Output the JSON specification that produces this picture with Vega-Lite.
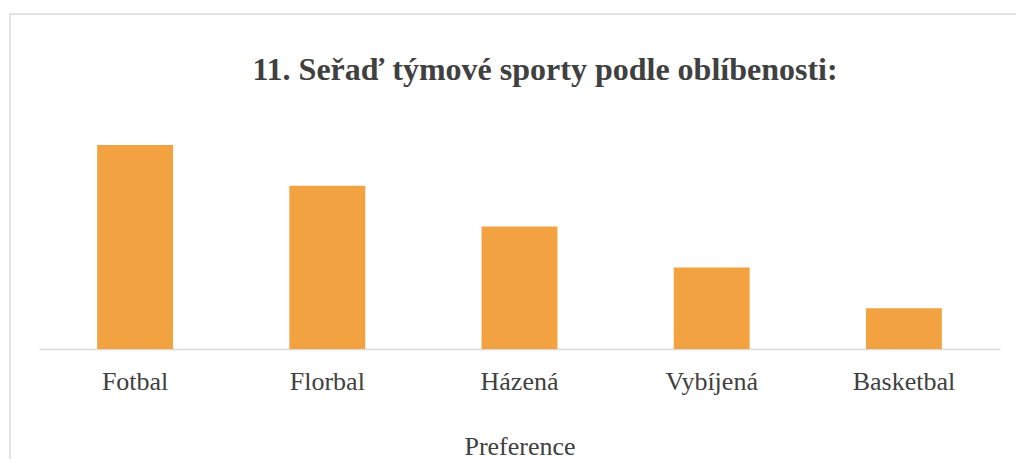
{
  "$schema": "https://vega.github.io/schema/vega-lite/v6.json",
  "autosize": {"type": "none"},
  "padding": {"left": 10, "top": 14, "right": 0, "bottom": 0},
  "width": 1010,
  "height": 450,
  "background": "white",
  "title": {
    "text": "11. Seřaď týmové sporty podle oblíbenosti:",
    "font": "Liberation Serif",
    "fontSize": 32,
    "fontWeight": "bold",
    "color": "#404040",
    "anchor": "middle",
    "frame": "group",
    "baseline": "alphabetic",
    "offset": 0,
    "dx": 30,
    "dy": 98
  },
  "data": {
    "values": [
      {"sport": "Fotbal", "poradi": 5},
      {"sport": "Florbal", "poradi": 4},
      {"sport": "Házená", "poradi": 3},
      {"sport": "Vybíjená", "poradi": 2},
      {"sport": "Basketbal", "poradi": 1}
    ]
  },
  "mark": {"type": "bar", "color": "#F2A241"},
  "encoding": {
    "x": {
      "field": "sport",
      "type": "nominal",
      "sort": null,
      "scale": {"range": [29, 990], "paddingInner": 0.605, "paddingOuter": 0.3025},
      "axis": {
        "title": "Preference",
        "offset": -115,
        "labelAngle": 0,
        "ticks": false,
        "domainColor": "#d9d9d9",
        "domainWidth": 1.5,
        "labelFont": "Liberation Serif",
        "labelFontSize": 26,
        "labelColor": "#404040",
        "labelPadding": 19,
        "titleFont": "Liberation Serif",
        "titleFontSize": 26,
        "titleFontWeight": "normal",
        "titleColor": "#404040",
        "titlePadding": 39
      }
    },
    "y": {
      "field": "poradi",
      "type": "quantitative",
      "scale": {"domain": [0, 5], "range": [335, 131]},
      "axis": null
    }
  },
  "config": {
    "view": {"stroke": "#d9d9d9", "strokeWidth": 1.5}
  }
}
